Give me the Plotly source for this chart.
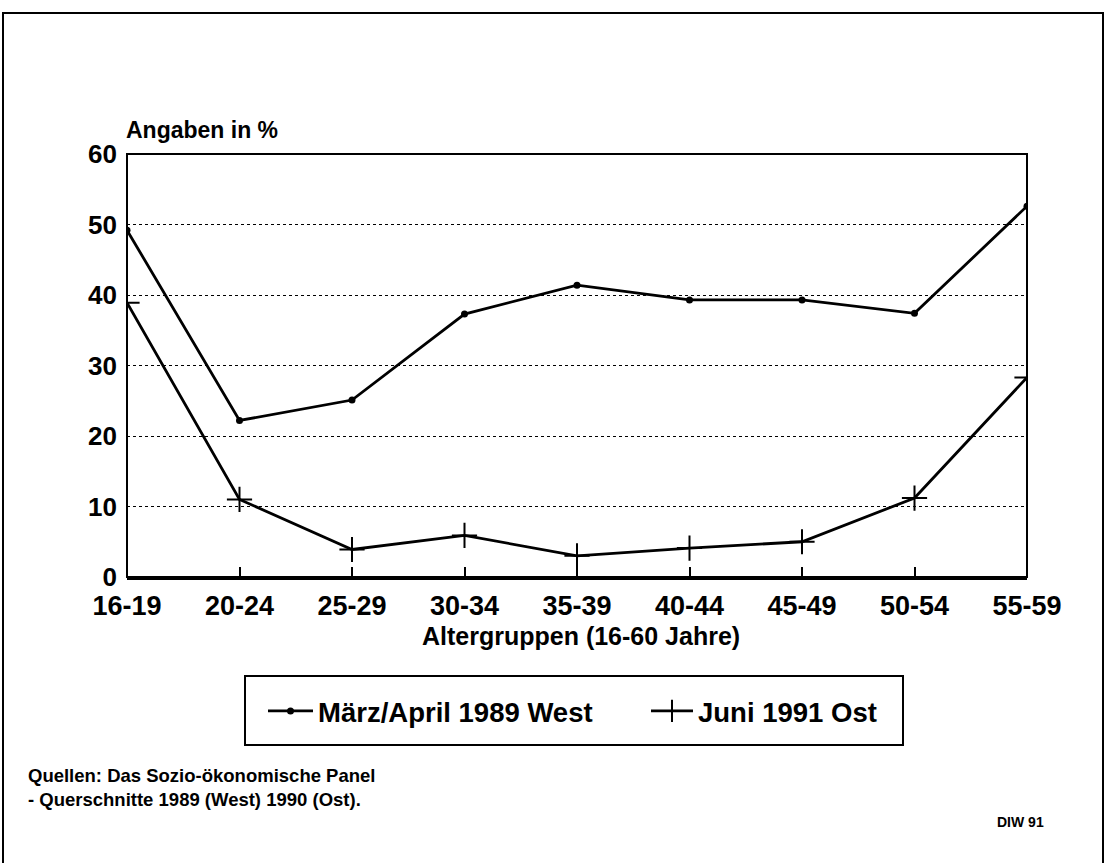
import plotly.graph_objects as go

categories = ["16-19", "20-24", "25-29", "30-34", "35-39", "40-44", "45-49", "50-54", "55-59"]
west_1989 = [49.2, 22.2, 25.1, 37.3, 41.4, 39.3, 39.3, 37.4, 52.6]
ost_1991 = [38.9, 11.0, 3.9, 5.9, 3.0, 4.1, 5.0, 11.2, 28.3]
y_ticks = [0, 10, 20, 30, 40, 50, 60]

FONT = "Liberation Sans"
W, H = 1108, 863
L, R, T, B = 127, 81, 154, 286
PW, PH = W - L - R, H - T - B

def px(x):
    return (x - L) / PW

def py(y):
    return (H - B - y) / PH

fig = go.Figure()
fig.add_trace(go.Scatter(
    x=categories, y=west_1989, mode="lines+markers", name="März/April 1989 West",
    line=dict(color="black", width=2.8),
    marker=dict(symbol="circle", size=7, color="black"),
    legend="legend", showlegend=True,
))
fig.add_trace(go.Scatter(
    x=categories, y=ost_1991, mode="lines+markers", name="Juni 1991 Ost",
    line=dict(color="black", width=2.8),
    marker=dict(symbol="cross-thin", size=18, color="black", line=dict(color="black", width=2)),
    legend="legend2", showlegend=True,
))

fig.update_layout(
    width=W, height=H,
    margin=dict(l=L, r=R, t=T, b=B),
    paper_bgcolor="white", plot_bgcolor="white",
    showlegend=True,
    font=dict(family=FONT, color="black", weight="bold"),
    legend=dict(
        visible=True, itemwidth=45,
        orientation="h", x=px(263), xanchor="left", y=py(711), yanchor="middle",
        font=dict(size=27.5, family=FONT, weight="bold"), bgcolor="rgba(0,0,0,0)",
    ),
    legend2=dict(
        visible=True, itemwidth=42,
        orientation="h", x=px(646), xanchor="left", y=py(711), yanchor="middle",
        font=dict(size=27.5, family=FONT, weight="bold"), bgcolor="rgba(0,0,0,0)",
    ),
    xaxis=dict(
        type="category", range=[0, len(categories) - 1],
        showline=True, linecolor="black", linewidth=3, mirror=False,
        showgrid=False, zeroline=False,
        ticks="inside", ticklen=10, tickwidth=1.5, tickcolor="black",
        tickfont=dict(size=27, family=FONT, weight="bold"),
        ticklabelstandoff=3,
    ),
    yaxis=dict(
        range=[0, 60], tickvals=y_ticks,
        showline=False, zeroline=False,
        showgrid=True, gridcolor="black", gridwidth=1, griddash="dot",
        ticks="", tickfont=dict(size=26, family=FONT, weight="bold"),
        ticklabelstandoff=9,
    ),
    shapes=[
        dict(type="rect", xref="paper", yref="paper", x0=0, x1=1, y0=0, y1=1,
             line=dict(color="black", width=2)),
        dict(type="rect", xref="paper", yref="paper",
             x0=px(245), x1=px(903), y0=py(745), y1=py(676),
             line=dict(color="black", width=2)),
        dict(type="path", xref="paper", yref="paper",
             path=f"M {px(3)} {py(870)} L {px(3)} {py(13)} L {px(1103)} {py(13)} L {px(1103)} {py(870)}",
             line=dict(color="black", width=2)),
    ],
    annotations=[
        dict(text="Angaben in %", xref="paper", yref="paper", x=px(124), y=py(130),
             xanchor="left", yanchor="middle", showarrow=False,
             font=dict(size=23, family=FONT, weight="bold")),
        dict(text="Altergruppen (16-60 Jahre)", xref="paper", yref="paper", x=px(581), y=py(636),
             xanchor="center", yanchor="middle", showarrow=False,
             font=dict(size=25, family=FONT, weight="bold")),
        dict(text="Quellen: Das Sozio-ökonomische Panel<br>- Querschnitte 1989 (West) 1990 (Ost).",
             xref="paper", yref="paper", x=px(26), y=py(787),
             xanchor="left", yanchor="middle", align="left", showarrow=False,
             font=dict(size=18.5, family=FONT, weight="bold")),
        dict(text="DIW 91", xref="paper", yref="paper", x=px(1046), y=py(822),
             xanchor="right", yanchor="middle", showarrow=False,
             font=dict(size=14, family=FONT, weight="bold")),
    ],
)

fig.write_html("out.html", config={"displayModeBar": False},
               post_script="document.body.style.margin='0';document.body.style.padding='0';")
